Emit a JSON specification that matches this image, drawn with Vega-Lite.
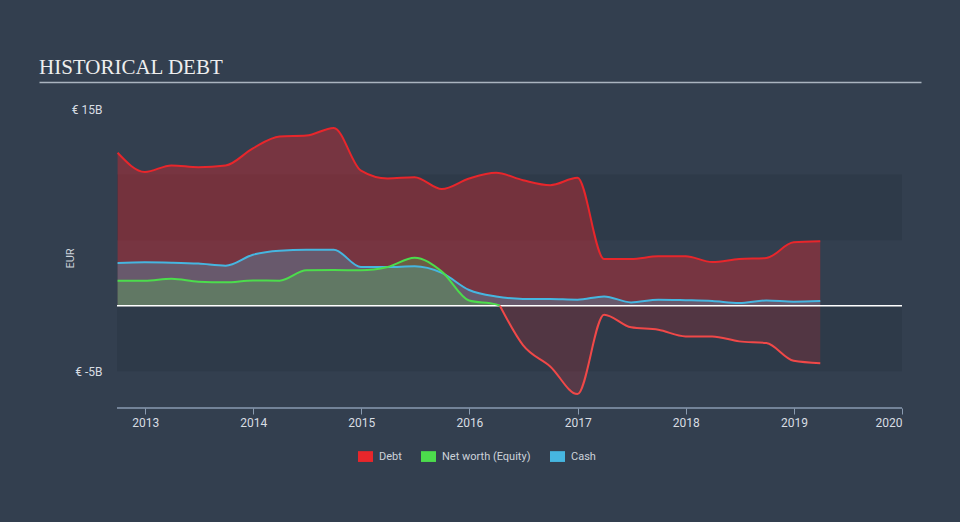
{
  "$schema": "https://vega.github.io/schema/vega-lite/v6.json",
  "width": 882,
  "height": 326,
  "autosize": {"type": "none"},
  "padding": {"left": 39, "top": 82, "right": 39, "bottom": 114},
  "background": "#333f4f",
  "config": {"view": {"stroke": null}, "font": "Roboto"},
  "title": {"text": "HISTORICAL DEBT", "anchor": "start", "frame": "group", "font": "Liberation Serif", "fontSize": 21, "fontWeight": "normal", "color": "#eeeeee", "offset": 4},
  "data": {"values": [
    {"date": "2012-09-30", "series": "Debt", "value": 11.66},
    {"date": "2012-12-31", "series": "Debt", "value": 10.2},
    {"date": "2013-03-31", "series": "Debt", "value": 10.7},
    {"date": "2013-06-30", "series": "Debt", "value": 10.56},
    {"date": "2013-09-30", "series": "Debt", "value": 10.69},
    {"date": "2013-12-31", "series": "Debt", "value": 12.0},
    {"date": "2014-03-31", "series": "Debt", "value": 12.9},
    {"date": "2014-06-30", "series": "Debt", "value": 12.97},
    {"date": "2014-09-30", "series": "Debt", "value": 13.56},
    {"date": "2014-12-31", "series": "Debt", "value": 10.3},
    {"date": "2015-03-31", "series": "Debt", "value": 9.7},
    {"date": "2015-06-30", "series": "Debt", "value": 9.8},
    {"date": "2015-09-30", "series": "Debt", "value": 8.9},
    {"date": "2015-12-31", "series": "Debt", "value": 9.7},
    {"date": "2016-03-31", "series": "Debt", "value": 10.13},
    {"date": "2016-06-30", "series": "Debt", "value": 9.57},
    {"date": "2016-09-30", "series": "Debt", "value": 9.19},
    {"date": "2016-12-31", "series": "Debt", "value": 9.75},
    {"date": "2017-03-31", "series": "Debt", "value": 3.56},
    {"date": "2017-06-30", "series": "Debt", "value": 3.56},
    {"date": "2017-09-30", "series": "Debt", "value": 3.77},
    {"date": "2017-12-31", "series": "Debt", "value": 3.77},
    {"date": "2018-03-31", "series": "Debt", "value": 3.33},
    {"date": "2018-06-30", "series": "Debt", "value": 3.56},
    {"date": "2018-09-30", "series": "Debt", "value": 3.64},
    {"date": "2018-12-31", "series": "Debt", "value": 4.83},
    {"date": "2019-03-31", "series": "Debt", "value": 4.91},
    {"date": "2012-09-30", "series": "Cash", "value": 3.26},
    {"date": "2012-12-31", "series": "Cash", "value": 3.31},
    {"date": "2013-03-31", "series": "Cash", "value": 3.28},
    {"date": "2013-06-30", "series": "Cash", "value": 3.21},
    {"date": "2013-09-30", "series": "Cash", "value": 3.05},
    {"date": "2013-12-31", "series": "Cash", "value": 3.89},
    {"date": "2014-03-31", "series": "Cash", "value": 4.2},
    {"date": "2014-06-30", "series": "Cash", "value": 4.27},
    {"date": "2014-09-30", "series": "Cash", "value": 4.27},
    {"date": "2014-12-31", "series": "Cash", "value": 2.95},
    {"date": "2015-03-31", "series": "Cash", "value": 2.95},
    {"date": "2015-06-30", "series": "Cash", "value": 3.0},
    {"date": "2015-09-30", "series": "Cash", "value": 2.5},
    {"date": "2015-12-31", "series": "Cash", "value": 1.2},
    {"date": "2016-03-31", "series": "Cash", "value": 0.7},
    {"date": "2016-06-30", "series": "Cash", "value": 0.52},
    {"date": "2016-09-30", "series": "Cash", "value": 0.51},
    {"date": "2016-12-31", "series": "Cash", "value": 0.46},
    {"date": "2017-03-31", "series": "Cash", "value": 0.71},
    {"date": "2017-06-30", "series": "Cash", "value": 0.25},
    {"date": "2017-09-30", "series": "Cash", "value": 0.46},
    {"date": "2017-12-31", "series": "Cash", "value": 0.42},
    {"date": "2018-03-31", "series": "Cash", "value": 0.36},
    {"date": "2018-06-30", "series": "Cash", "value": 0.21},
    {"date": "2018-09-30", "series": "Cash", "value": 0.4},
    {"date": "2018-12-31", "series": "Cash", "value": 0.31},
    {"date": "2019-03-31", "series": "Cash", "value": 0.36},
    {"date": "2012-09-30", "series": "Net worth (Equity)", "value": 1.91},
    {"date": "2012-12-31", "series": "Net worth (Equity)", "value": 1.91},
    {"date": "2013-03-31", "series": "Net worth (Equity)", "value": 2.06},
    {"date": "2013-06-30", "series": "Net worth (Equity)", "value": 1.83},
    {"date": "2013-09-30", "series": "Net worth (Equity)", "value": 1.78},
    {"date": "2013-12-31", "series": "Net worth (Equity)", "value": 1.93},
    {"date": "2014-03-31", "series": "Net worth (Equity)", "value": 1.91},
    {"date": "2014-06-30", "series": "Net worth (Equity)", "value": 2.7},
    {"date": "2014-09-30", "series": "Net worth (Equity)", "value": 2.72},
    {"date": "2014-12-31", "series": "Net worth (Equity)", "value": 2.7},
    {"date": "2015-03-31", "series": "Net worth (Equity)", "value": 2.95},
    {"date": "2015-06-30", "series": "Net worth (Equity)", "value": 3.66},
    {"date": "2015-09-30", "series": "Net worth (Equity)", "value": 2.6},
    {"date": "2015-12-31", "series": "Net worth (Equity)", "value": 0.4},
    {"date": "2016-03-31", "series": "Net worth (Equity)", "value": 0.1},
    {"date": "2016-04-13", "series": "Net worth (Equity)", "value": 0},
    {"date": "2016-06-30", "series": "Net worth (Equity)", "value": -3.0},
    {"date": "2016-09-30", "series": "Net worth (Equity)", "value": -4.63},
    {"date": "2016-12-31", "series": "Net worth (Equity)", "value": -6.74},
    {"date": "2017-03-31", "series": "Net worth (Equity)", "value": -0.69},
    {"date": "2017-06-30", "series": "Net worth (Equity)", "value": -1.65},
    {"date": "2017-09-30", "series": "Net worth (Equity)", "value": -1.83},
    {"date": "2017-12-31", "series": "Net worth (Equity)", "value": -2.34},
    {"date": "2018-03-31", "series": "Net worth (Equity)", "value": -2.34},
    {"date": "2018-06-30", "series": "Net worth (Equity)", "value": -2.72},
    {"date": "2018-09-30", "series": "Net worth (Equity)", "value": -2.85},
    {"date": "2018-12-31", "series": "Net worth (Equity)", "value": -4.2},
    {"date": "2019-03-31", "series": "Net worth (Equity)", "value": -4.38}
  ]},
  "layer": [
    {
      "layer": [
        {
          "data": {"values": [{}]},
          "mark": {"type": "rect", "color": "#2e3a49"},
          "encoding": {
            "x": {"datum": {"year": 2012, "month": 9, "date": 28, "utc": true}, "type": "temporal",
              "scale": {"domain": [{"year": 2012, "month": 9, "date": 28, "utc": true}, {"year": 2020, "month": 1, "date": 1, "utc": true}], "range": [78, 863]},
              "axis": {"orient": "bottom", "domain": false, "grid": false, "title": null, "format": "%Y", "tickCount": {"interval": "year", "step": 1}, "tickColor": "#8a9bb0", "tickSize": 6, "labelColor": "#d8dde3", "labelFontSize": 12, "labelPadding": 3}},
            "x2": {"datum": {"year": 2020, "month": 1, "date": 1, "utc": true}},
            "y": {"datum": 10, "type": "quantitative",
              "scale": {"domain": [-7.8, 15], "range": [326, 27], "nice": false, "zero": false},
              "axis": {"orient": "left", "offset": -78, "values": [15, -5], "labelExpr": "'€ ' + datum.value + 'B'", "domain": false, "ticks": false, "grid": false, "labelPadding": 15, "labelColor": "#d8dde3", "labelFontSize": 12, "title": "EUR", "titleColor": "#cdd3da", "titleFontSize": 11, "titleFontWeight": "normal", "titleX": -47, "titleY": 176, "titleAngle": -90, "titleBaseline": "middle", "titleAlign": "center"}},
            "y2": {"datum": 5}
          }
        },
        {
          "data": {"values": [{}]},
          "mark": {"type": "rect", "color": "#2e3a49"},
          "encoding": {
            "x": {"datum": {"year": 2012, "month": 9, "date": 28, "utc": true}, "type": "temporal"},
            "x2": {"datum": {"year": 2020, "month": 1, "date": 1, "utc": true}},
            "y": {"datum": 0, "type": "quantitative"},
            "y2": {"datum": -5}
          }
        },
        {
          "data": {"values": [{}]},
          "mark": {"type": "rule", "color": "#8a9bb0", "strokeWidth": 1.5},
          "encoding": {
            "x": {"datum": {"year": 2012, "month": 9, "date": 28, "utc": true}, "type": "temporal"},
            "x2": {"datum": {"year": 2020, "month": 1, "date": 1, "utc": true}},
            "y": {"datum": -7.8, "type": "quantitative"}
          }
        },
        {
          "transform": [{"filter": "datum.series === 'Debt'"}],
          "mark": {"type": "area", "interpolate": "monotone", "opacity": 0.38},
          "encoding": {
            "x": {"field": "date", "type": "temporal"},
            "y": {"field": "value", "type": "quantitative"},
            "y2": {"datum": 0},
            "color": {"field": "series", "type": "nominal"}
          }
        },
        {
          "transform": [{"filter": "datum.series === 'Cash'"}],
          "mark": {"type": "area", "interpolate": "monotone", "opacity": 0.28},
          "encoding": {
            "x": {"field": "date", "type": "temporal"},
            "y": {"field": "value", "type": "quantitative"},
            "y2": {"datum": 0},
            "color": {"field": "series", "type": "nominal"}
          }
        },
        {
          "transform": [{"filter": "datum.series === 'Net worth (Equity)' && datum.value >= 0"}],
          "mark": {"type": "area", "interpolate": "monotone", "opacity": 0.24},
          "encoding": {
            "x": {"field": "date", "type": "temporal"},
            "y": {"field": "value", "type": "quantitative"},
            "y2": {"datum": 0},
            "color": {"field": "series", "type": "nominal"}
          }
        },
        {
          "transform": [{"filter": "datum.series === 'Net worth (Equity)' && datum.value <= 0"}],
          "mark": {"type": "area", "interpolate": "monotone", "color": "#e8262b", "opacity": 0.2},
          "encoding": {
            "x": {"field": "date", "type": "temporal"},
            "y": {"field": "value", "type": "quantitative"},
            "y2": {"datum": 0}
          }
        },
        {
          "data": {"values": [{}]},
          "mark": {"type": "rule", "color": "#ffffff", "strokeWidth": 1.5},
          "encoding": {
            "x": {"datum": {"year": 2012, "month": 9, "date": 28, "utc": true}, "type": "temporal"},
            "x2": {"datum": {"year": 2020, "month": 1, "date": 1, "utc": true}},
            "y": {"datum": 0, "type": "quantitative"}
          }
        },
        {
          "transform": [{"filter": "datum.series === 'Debt' || datum.series === 'Cash' || (datum.series === 'Net worth (Equity)' && datum.value >= 0)"}],
          "mark": {"type": "line", "interpolate": "monotone", "strokeWidth": 2},
          "encoding": {
            "x": {"field": "date", "type": "temporal"},
            "y": {"field": "value", "type": "quantitative"},
            "color": {"field": "series", "type": "nominal",
              "scale": {"domain": ["Debt", "Net worth (Equity)", "Cash"], "range": ["#e8262b", "#4cdc4c", "#46b6e0"]},
              "legend": {"orient": "none", "legendX": 319, "legendY": 367, "direction": "horizontal", "title": null, "symbolType": "M-1,-0.72L1,-0.72L1,0.72L-1,0.72Z", "symbolSize": 225, "symbolOpacity": 1, "symbolStrokeWidth": 0, "labelColor": "#cdd3da", "labelFontSize": 11, "labelOffset": 6, "columnPadding": 19, "padding": 0,
                "values": ["Debt", "Net worth (Equity)", "Cash"],
                "encode": {"symbols": {"update": {"fill": {"scale": "color", "field": "value"}, "stroke": {"value": "transparent"}, "opacity": {"value": 1}}}}}
            }
          }
        },
        {
          "transform": [{"filter": "datum.series === 'Net worth (Equity)' && datum.value <= 0"}],
          "mark": {"type": "line", "interpolate": "monotone", "strokeWidth": 2, "color": "#f04848"},
          "encoding": {
            "x": {"field": "date", "type": "temporal"},
            "y": {"field": "value", "type": "quantitative"}
          }
        }
      ]
    },
    {
      "data": {"values": [{}]},
      "mark": {"type": "rule", "opacity": 0},
      "encoding": {
        "x": {"datum": {"year": 2016, "month": 1, "date": 1, "utc": true}, "type": "temporal",
          "axis": {"orient": "top", "domain": true, "domainColor": "#aab4c0", "domainWidth": 1.5, "ticks": false, "labels": false, "title": null, "grid": false}}
      }
    }
  ],
  "resolve": {"scale": {"x": "independent"}, "axis": {"x": "independent"}}
}
